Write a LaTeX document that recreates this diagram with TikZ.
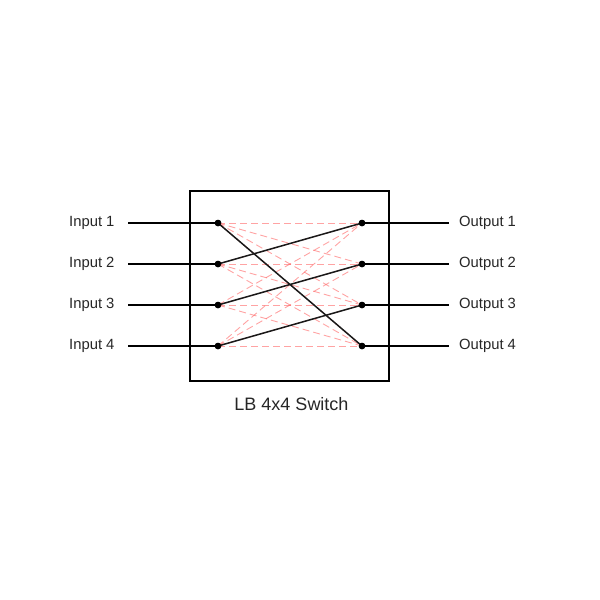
\documentclass[tikz,border=0pt]{standalone}
\usepackage{fontspec}
\setmainfont{Liberation Sans}
\begin{document}
\begin{tikzpicture}[x=1pt,y=-1pt,
  lbl/.style={font=\fontsize{14.8}{17}\selectfont, text=black!85, inner sep=0pt},
  caplbl/.style={font=\fontsize{18}{21}\selectfont, text=black!85, inner sep=0pt},
  wire/.style={line width=1.5pt, black},
  cross/.style={line width=1.5pt, black!90},
  alt/.style={line width=0.9pt, red!60!white, opacity=0.6, dash pattern=on 7pt off 4pt},
  pin/.style={circle, fill=black, inner sep=0pt, minimum size=6.5pt},
  boxst/.style={draw, line width=1.4pt, black}]
\useasboundingbox (0,0) rectangle (600,600);
\draw[boxst] (190,191) rectangle (389,381);
\foreach \i/\y in {1/223,2/264,3/305,4/346}{
  \node[pin] (L\i) at (218,\y) {};
  \node[pin] (R\i) at (362,\y) {};
  \coordinate (A\i) at (128,\y);
  \coordinate (B\i) at (449,\y);
  \node[lbl, anchor=west] (in\i) at (69,\y) {Input \i};
  \node[lbl, anchor=west] (out\i) at (459,\y) {Output \i};
}
\foreach \i in {1,...,4}{\foreach \j in {1,...,4}{
  \draw[alt] (L\i.center) -- (R\j.center);
}}
\foreach \i in {1,...,4}{
  \draw[wire] (A\i) -- (L\i.center);
  \draw[wire] (R\i.center) -- (B\i);
}
\draw[cross] (L1.center) -- (R4.center);
\draw[cross] (L2.center) -- (R1.center);
\draw[cross] (L3.center) -- (R2.center);
\draw[cross] (L4.center) -- (R3.center);
\foreach \i in {1,...,4}{
  \node[pin] at (L\i) {};
  \node[pin] at (R\i) {};
}
\node[caplbl] (cap) at (291.5,404) {LB 4x4 Switch};
\end{tikzpicture}
\end{document}
